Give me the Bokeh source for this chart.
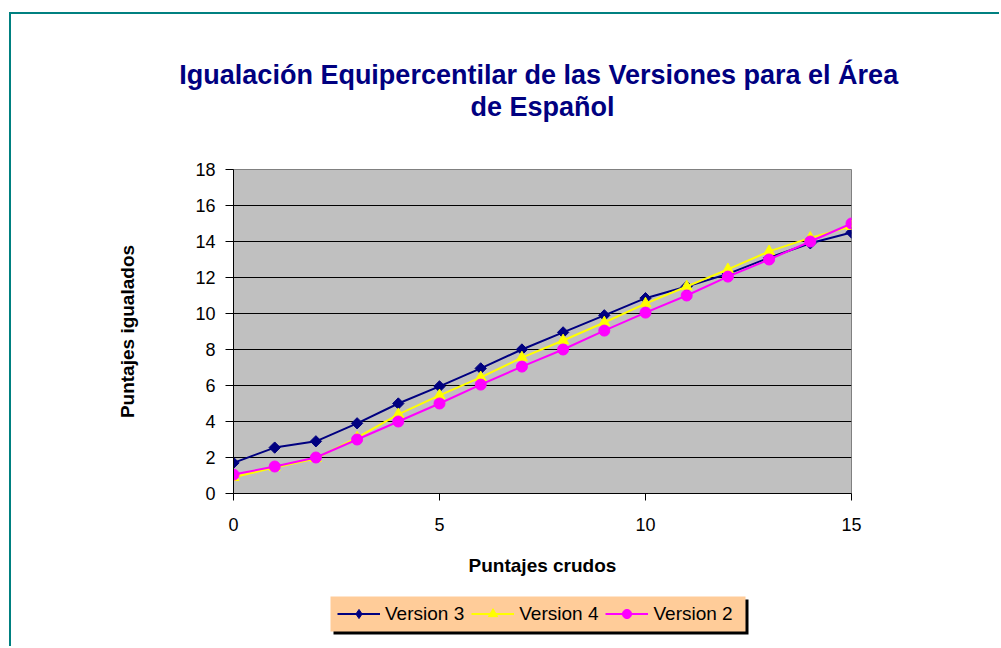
import numpy as np
from bokeh.plotting import figure
from bokeh.layouts import column
from bokeh.models import (Legend, LegendItem, Title, FixedTicker, Range1d, BoxAnnotation)
from bokeh.embed import file_html
from bokeh.resources import INLINE

# ---- data ----
x_vals = list(range(0, 16))
version3 = [1.7, 2.55, 2.9, 3.9, 5.0, 5.95, 6.95, 8.0, 8.95, 9.9, 10.85, 11.5, 12.2, 13.1, 13.9, 14.5]
version4 = [0.9, 1.45, 1.95, 3.1, 4.4, 5.45, 6.45, 7.55, 8.5, 9.5, 10.55, 11.5, 12.45, 13.45, 14.2, 14.85]
version2 = [1.05, 1.5, 2.0, 3.0, 4.0, 5.0, 6.05, 7.05, 8.0, 9.05, 10.05, 11.0, 12.05, 13.0, 14.0, 15.0]
series_names = ["Version 3", "Version 4", "Version 2"]
series_colors = ["#000080", "#FFFF00", "#FF00FF"]
x_ticks = [0, 5, 10, 15]
y_ticks = [0, 2, 4, 6, 8, 10, 12, 14, 16, 18]
title_line1 = "Igualación  Equipercentilar de las Versiones para el Área"
title_line2 = "de Español"
x_label = "Puntajes crudos"
y_label = "Puntajes igualados"

FONT = "Liberation Sans"
W = 988

p = figure(width=W, height=580, output_backend="svg", toolbar_location=None,
           x_range=Range1d(0, 15), y_range=Range1d(0, 18),
           min_border_left=222, min_border_top=155, min_border_right=148, min_border_bottom=101,
           background_fill_color="#C0C0C0", border_fill_color="white")

p.outline_line_color = "#808080"
p.outline_line_width = 1

# grid
p.xgrid.grid_line_color = None
p.ygrid.grid_line_color = "black"
p.ygrid.grid_line_width = 1
p.ygrid.ticker = FixedTicker(ticks=y_ticks)

# axes
p.xaxis.ticker = FixedTicker(ticks=x_ticks)
p.yaxis.ticker = FixedTicker(ticks=y_ticks)
for ax in (p.xaxis[0], p.yaxis[0]):
    ax.axis_line_color = "black"
    ax.major_tick_line_color = "black"
    ax.major_tick_in = 0
    ax.minor_tick_line_color = None
    ax.major_label_text_font = FONT
    ax.major_label_text_font_size = "18px"
    ax.major_label_text_color = "black"
    ax.axis_label_text_font = FONT
    ax.axis_label_text_font_size = "19px"
    ax.axis_label_text_font_style = "bold"
    ax.axis_label_text_color = "black"
p.xaxis.major_tick_out = 7
p.yaxis.major_tick_out = 8
p.xaxis.major_label_standoff = 17
p.yaxis.major_label_standoff = 10
p.xaxis.axis_label = x_label
p.yaxis.axis_label = y_label
p.xaxis.axis_label_standoff = 21
p.yaxis.axis_label_standoff = 54

# titles (spacer closest to the frame, then line 2, then line 1)
spacer = Title(text=" ", align="center", text_font=FONT, text_font_size="27px",
               text_color="white", standoff=15)
t2 = Title(text=title_line2, align="center", text_font=FONT, text_font_size="27px",
           text_font_style="bold", text_color="#000080", standoff=1)
t1 = Title(text=title_line1, align="center", text_font=FONT, text_font_size="27px",
           text_font_style="bold", text_color="#000080", standoff=0)
p.add_layout(spacer, "above")
p.add_layout(t2, "above")
p.add_layout(t1, "above")

# series
p.line(x_vals, version3, line_color=series_colors[0], line_width=2)
p.scatter(x_vals, version3, marker="square", angle=np.pi / 4, size=8,
          fill_color=series_colors[0], line_color=series_colors[0])
p.line(x_vals, version4, line_color=series_colors[1], line_width=2)
p.scatter(x_vals, version4, marker="triangle", size=11,
          fill_color=series_colors[1], line_color=series_colors[1])
p.line(x_vals, version2, line_color=series_colors[2], line_width=2)
p.scatter(x_vals, version2, marker="circle", size=11,
          fill_color=series_colors[2], line_color=series_colors[2])

# ---- legend strip (separate figure so the legend is not clipped by the plot frame) ----
# its ranges are pixel offsets, far away from the data, so only the legend shows
p2 = figure(width=W, height=52, output_backend="svg", toolbar_location=None,
            x_range=Range1d(233, 851), y_range=Range1d(0, 52),
            x_axis_location=None, y_axis_location=None, min_border=0,
            background_fill_color="white", border_fill_color="white")
p2.grid.grid_line_color = None
p2.outline_line_color = None

markers = ["diamond", "triangle", "circle"]
msizes = [13, 11, 11]
items = []
for name, col, mk, ms, ys in zip(series_names, series_colors, markers, msizes,
                                 [version3, version4, version2]):
    lr = p2.line(x_vals, ys, line_color=col, line_width=2)
    sr = p2.scatter(x_vals, ys, marker=mk, size=ms, fill_color=col, line_color=col)
    items.append(LegendItem(label=name, renderers=[lr, sr]))

# legend box: shadow then peach background
p2.add_layout(BoxAnnotation(left=333, right=748, bottom=12, top=47,
                            fill_color="black", fill_alpha=1, line_color=None))
p2.add_layout(BoxAnnotation(left=330, right=745, bottom=15, top=50,
                            fill_color="#FFCC99", fill_alpha=1, line_color=None))

legend = Legend(items=items, orientation="horizontal", location=(104, 21))
legend.background_fill_alpha = 0
legend.border_line_color = None
legend.label_text_font = FONT
legend.label_text_font_size = "19px"
legend.label_text_color = "black"
legend.glyph_width = 43
legend.glyph_height = 23
legend.label_standoff = 5
legend.spacing = 7
legend.padding = 0
legend.margin = 0
p2.add_layout(legend, "center")

layout = column(p, p2, spacing=0, margin=(12, 0, 0, 9),
                styles={"border-top": "2px solid #008080", "border-left": "2px solid #008080"})

open("out.html", "w").write(file_html(layout, INLINE))
